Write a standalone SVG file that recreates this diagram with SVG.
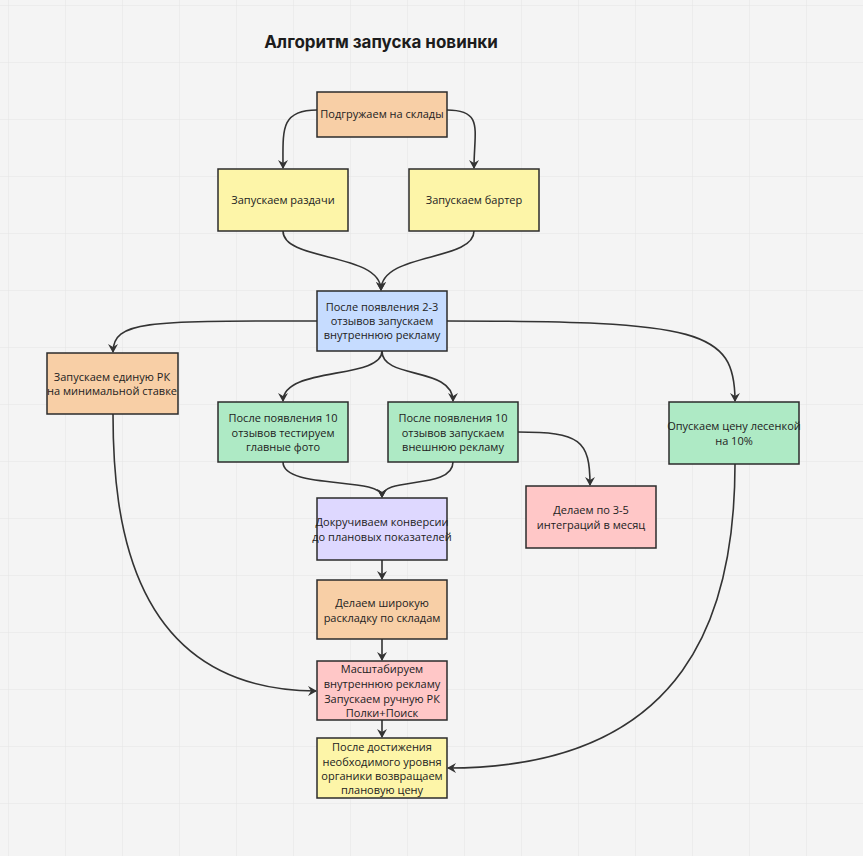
<svg xmlns="http://www.w3.org/2000/svg" width="863" height="856" viewBox="0 0 863 856">
<defs>
<pattern id="grid" x="8" y="5" width="57" height="57" patternUnits="userSpaceOnUse"><path d="M0 0H57M0 0V57" fill="none" stroke="#e3e3e3" stroke-width="1"/></pattern>
<marker id="ar" markerWidth="10" markerHeight="10" refX="8" refY="5" orient="auto" markerUnits="userSpaceOnUse"><path d="M0 0L9 5L0 10L3 5Z" fill="#333"/></marker>
</defs>
<style>
.n rect{stroke:#2b2b2b;stroke-width:1.5}
.n text{font-family:"Open Sans","Noto Sans",sans-serif;font-size:11px;fill:#222;text-anchor:middle}
.c path{fill:none;stroke:#333;stroke-width:1.6;marker-end:url(#ar)}
.or{fill:#f8cfa6}.ye{fill:#fdf5a8}.bl{fill:#c6dcff}.gr{fill:#aeeac5}.pk{fill:#ffc7c7}.lv{fill:#ded8ff}
</style>
<rect width="863" height="856" fill="#f4f4f4"/>
<rect width="863" height="856" fill="url(#grid)"/>
<text x="381" y="48" font-family="Inter,'Noto Sans',sans-serif" font-size="17" font-weight="bold" text-anchor="middle" fill="#1c1c1c">Алгоритм запуска новинки</text>
<g class="c">
<path d="M317 110C280 110 283 130 283 168"/>
<path d="M447 110C484 110 474 130 474 168"/>
<path d="M283 231C283 262 381 252 381 290"/>
<path d="M474 231C474 262 381 252 381 290"/>
<path d="M317 321C150 321 113 320 113 352"/>
<path d="M447 321C700 321 735 330 735 401"/>
<path d="M382 351C382 380 283 366 283 401"/>
<path d="M382 351C382 380 453 366 453 401"/>
<path d="M518 432C580 432 590 440 590 485"/>
<path d="M283 462C283 490 382 476 382 497"/>
<path d="M453 462C453 490 382 476 382 497"/>
<path d="M382 560V579"/>
<path d="M382 639V660"/>
<path d="M113 414C113 520 130 690 316 691"/>
<path d="M382 720V737"/>
<path d="M735 464C735 610 690 768 448 768"/>
</g>
<g id="n1" class="n"><rect class="or" x="317" y="92" width="130" height="45"/><text x="382" y="118">Подгружаем на склады</text></g>
<g id="n2" class="n"><rect class="ye" x="218" y="169" width="130" height="62"/><text x="283" y="204">Запускаем раздачи</text></g>
<g id="n3" class="n"><rect class="ye" x="409" y="169" width="130" height="62"/><text x="474" y="204">Запускаем бартер</text></g>
<g id="n4" class="n"><rect class="bl" x="317" y="291" width="130" height="60"/><text x="382" y="311">После появления 2-3</text><text x="382" y="325">отзывов запускаем</text><text x="382" y="339">внутреннюю рекламу</text></g>
<g id="n5" class="n"><rect class="or" x="47" y="353" width="131" height="61"/><text x="112" y="381">Запускаем единую РК</text><text x="112" y="395">на минимальной ставке</text></g>
<g id="n6" class="n"><rect class="gr" x="218" y="402" width="130" height="60"/><text x="283" y="422">После появления 10</text><text x="283" y="437">отзывов тестируем</text><text x="283" y="451">главные фото</text></g>
<g id="n7" class="n"><rect class="gr" x="388" y="402" width="130" height="60"/><text x="453" y="422">После появления 10</text><text x="453" y="437">отзывов запускаем</text><text x="453" y="451">внешнюю рекламу</text></g>
<g id="n8" class="n"><rect class="gr" x="669" y="402" width="130" height="62"/><text x="734" y="430">Опускаем цену лесенкой</text><text x="734" y="445">на 10%</text></g>
<g id="n9" class="n"><rect class="pk" x="526" y="486" width="130" height="62"/><text x="591" y="514">Делаем по 3-5</text><text x="591" y="529">интеграций в месяц</text></g>
<g id="n10" class="n"><rect class="lv" x="317" y="498" width="130" height="62"/><text x="382" y="526">Докручиваем конверсии</text><text x="382" y="541">до плановых показателей</text></g>
<g id="n11" class="n"><rect class="or" x="317" y="580" width="130" height="59"/><text x="382" y="607">Делаем широкую</text><text x="382" y="622">раскладку по складам</text></g>
<g id="n12" class="n"><rect class="pk" x="317" y="661" width="130" height="59"/><text x="382" y="673">Масштабируем</text><text x="382" y="688">внутреннюю рекламу</text><text x="382" y="703">Запускаем ручную РК</text><text x="382" y="717">Полки+Поиск</text></g>
<g id="n13" class="n"><rect class="ye" x="317" y="738" width="130" height="60"/><text x="382" y="751">После достижения</text><text x="382" y="766">необходимого уровня</text><text x="382" y="780">органики возвращаем</text><text x="382" y="794">плановую цену</text></g>
</svg>
